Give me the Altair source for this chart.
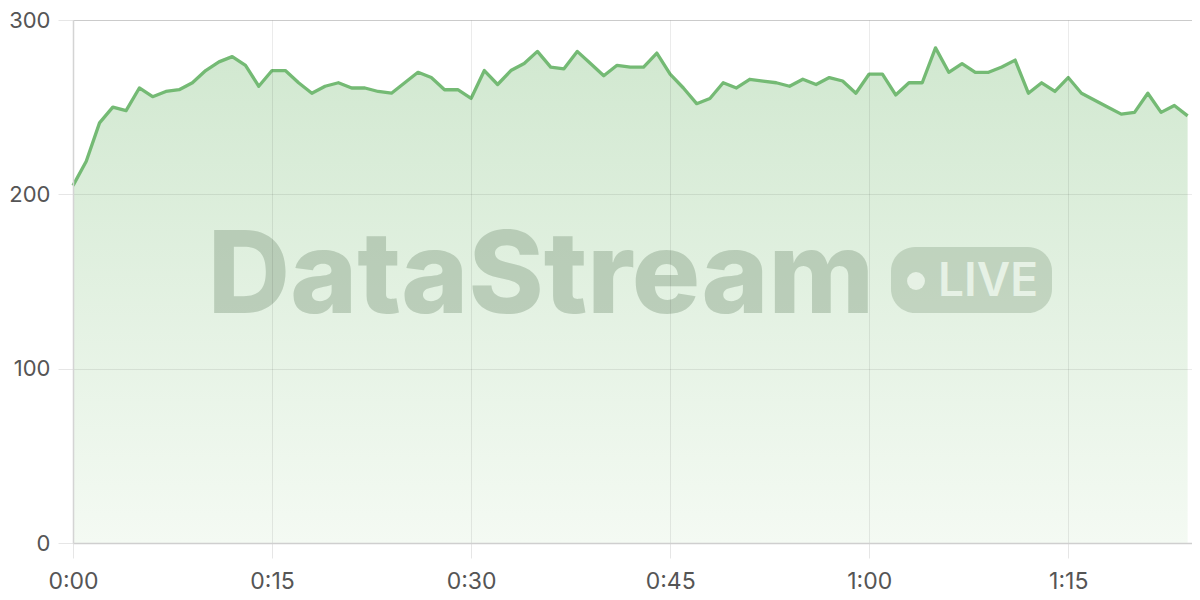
import altair as alt
import pandas as pd

minutes = list(range(85))
values = [205, 219, 241, 250, 248, 261, 256, 259, 260, 264,
          271, 276, 279, 274, 262, 271, 271, 264, 258, 262,
          264, 261, 261, 259, 258, 264, 270, 267, 260, 260,
          255, 271, 263, 271, 275, 282, 273, 272, 282, 275,
          268, 274, 273, 273, 281, 269, 261, 252, 255, 264,
          261, 266, 265, 264, 262, 266, 263, 267, 265, 258,
          269, 269, 257, 264, 264, 284, 270, 275, 270, 270,
          273, 277, 258, 264, 259, 267, 258, 254, 250, 246,
          247, 258, 247, 251, 245]
x_ticks = [0, 15, 30, 45, 60, 75]
y_ticks = [0, 100, 200, 300]

df = pd.DataFrame({"m": minutes, "v": values})

W, H = 1119, 523
LINE = "#74ba74"
FONT = "Inter"

x = alt.X("m:Q", scale=alt.Scale(domain=[0, 84.33], nice=False, zero=False),
          axis=alt.Axis(values=x_ticks, title=None, grid=True, gridColor="#000000", gridOpacity=0.08,
                        domainColor="#cfcfcf", domainWidth=1.5, tickColor="#e6e6e6", tickSize=15,
                        labelFontSize=23, labelColor="#555555", labelFont=FONT, labelPadding=12,
                        labelFlush=False, zindex=1,
                        labelExpr="floor(datum.value/60) + ':' + (datum.value%60 < 10 ? '0' : '') + (datum.value%60)"))
y = alt.Y("v:Q", scale=alt.Scale(domain=[0, 300], nice=False),
          axis=alt.Axis(values=y_ticks, title=None, grid=True, gridColor="#000000", gridOpacity=0.08,
                        domainColor="#d4d4d4", domainWidth=1.5, tickColor="#e6e6e6", tickSize=15,
                        labelFontSize=22, labelColor="#555555", labelFont=FONT, labelPadding=8,
                        labelFlush=False, zindex=1))

area = alt.Chart(df).mark_area(
    color=alt.Gradient(gradient="linear", x1=0, x2=0, y1=0, y2=1,
                       stops=[alt.GradientStop(color="#d1e8d0", offset=0),
                              alt.GradientStop(color="#f4faf3", offset=1)]),
    line=False,
).encode(x=x, y=y)

line = alt.Chart(df).mark_line(color=LINE, strokeWidth=3.3, strokeJoin="round").encode(
    x=alt.X("m:Q"), y=alt.Y("v:Q"))

WM = "#93ab92"
wm = alt.Chart(df.head(1)).mark_text(
    text="DataStream", font="Inter", fontWeight=800, fontSize=114, color=WM,
    opacity=0.5, align="center", baseline="alphabetic",
).encode(x=alt.value(541 - 73), y=alt.value(313 - 20))

badge = alt.Chart(df.head(1)).mark_rect(
    color=WM, opacity=0.42, cornerRadius=24,
).encode(x=alt.value(891 - 73), x2=alt.value(1052 - 73), y=alt.value(247 - 20), y2=alt.value(313 - 20))

dot = alt.Chart(df.head(1)).mark_point(
    shape="circle", filled=True, size=320, color="#e6f1e5", opacity=1,
).encode(x=alt.value(916 - 73), y=alt.value(281 - 20))

live = alt.Chart(df.head(1)).mark_text(
    text="LIVE", font="Inter", fontWeight=600, fontSize=46, color="#e6f1e5",
    align="left", baseline="alphabetic",
).encode(x=alt.value(938 - 73), y=alt.value(296 - 20))

chart = alt.layer(area, wm, badge, dot, live, line).properties(
    width=W, height=H,
    padding={"left": 65, "top": 12, "right": 0, "bottom": 55},
    autosize=alt.AutoSizeParams(type="none"),
).configure_view(stroke=None).configure(background="white")

chart.save("out.html", embed_options={"renderer": "svg", "actions": False})
